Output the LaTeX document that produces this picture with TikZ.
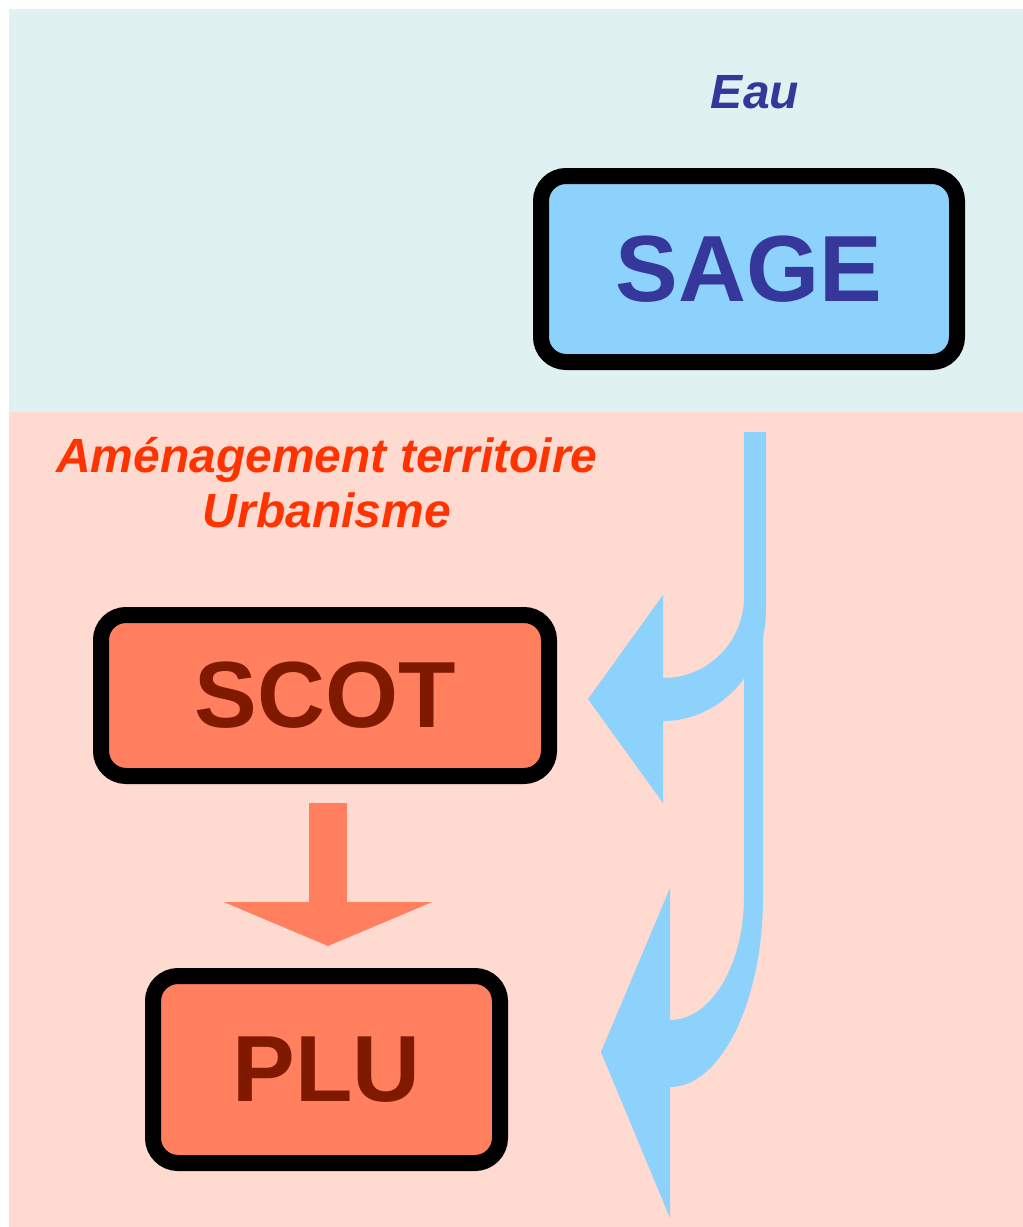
\documentclass[tikz,border=0pt]{standalone}
\usepackage{fontspec}
\setmainfont{Liberation Sans}
\usetikzlibrary{arrows.meta}

\definecolor{eaubg}{HTML}{DFF1F1}
\definecolor{urbabg}{HTML}{FFDAD0}
\definecolor{sagefill}{HTML}{8DD1FD}
\definecolor{sagetext}{HTML}{35379B}
\definecolor{scotfill}{HTML}{FF7F5E}
\definecolor{scottext}{HTML}{7F1A00}
\definecolor{urbatext}{HTML}{FF3300}

\tikzset{
	box/.style={draw=black, line width=16pt, rounded corners=25pt, inner sep=0pt,
		font=\bfseries\fontsize{94}{100}\selectfont},
	theme/.style={font=\bfseries\itshape\fontsize{48}{55}\selectfont, align=center}
}

\begin{document}
\begin{tikzpicture}[x=1pt, y=-1pt]
			\useasboundingbox (0,0) rectangle (1023,1227);
			% the two domains
			\fill[eaubg] (9,9) rectangle (1023,412);
			\fill[urbabg] (9,412) rectangle (1023,1227);

			\node[theme, text=sagetext] (eau) at (755,92) {Eau};
			\node[box, fill=sagefill, text=sagetext, minimum width=416pt, minimum height=186pt] (sage) at (749,269) {SAGE};
			\node[theme, text=urbatext, anchor=south] (urba) at (327,531) {Aménagement territoire\\Urbanisme};
			\node[box, fill=scotfill, text=scottext, minimum width=448pt, minimum height=161pt] (scot) at (325,695.5) {SCOT};
			\node[box, fill=scotfill, text=scottext, minimum width=347pt, minimum height=187pt] (plu) at (326.5,1069.5) {PLU};

			% compatibility arrows
			\draw[scotfill, line width=38pt, -{Triangle[width=207pt,length=44pt]}]
				([xshift=3pt,yshift=-19pt]scot.south) -- ([xshift=3pt,yshift=22pt]scot.south |- plu.north);
			\fill[sagefill] (766,432) -- (766,610) .. controls (766,671) and (720,721) .. (663,721)
				-- (663,803) -- (588,699) -- (663,595) -- (663,678)
				.. controls (708,678) and (744,642) .. (744,597) -- (744,432) -- cycle;
			\fill[sagefill] (763,631) -- (763,897) .. controls (763,1001) and (721,1087) .. (670,1087)
				-- (670,1218) -- (601,1052) -- (670,888) -- (670,1020)
				.. controls (711,1020) and (744,965) .. (744,897) -- (744,631) -- cycle;
\end{tikzpicture}
\end{document}
